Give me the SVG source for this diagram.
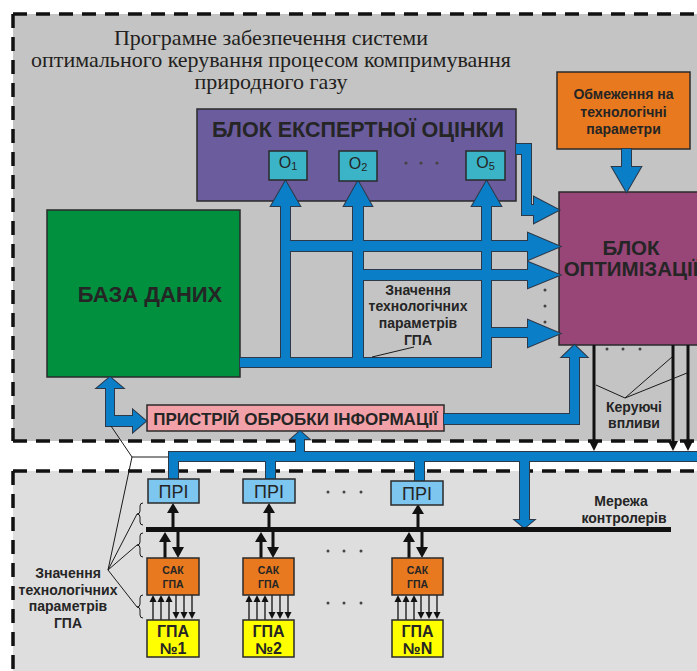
<svg xmlns="http://www.w3.org/2000/svg" xmlns:xlink="http://www.w3.org/1999/xlink" width="697" height="671" viewBox="0 0 697 671">
<style>
.t{font-family:"Liberation Sans",Arial,sans-serif;fill:#252525}
.b{font-weight:bold}
.ser{font-family:"Liberation Serif","Times New Roman",serif;fill:#231f20;font-size:22px}
.box{stroke:#2a2a2a;stroke-width:1.5}
.dash{fill:none;stroke:#111;stroke-width:3.5;stroke-dasharray:14 9}
.ld{fill:none;stroke:#1a1a1a;stroke-width:1}
.ar{stroke:#111;stroke-width:3;fill:none}
.ah{fill:#111}
.th{stroke:#111;stroke-width:1.3;fill:none}
.dot{fill:#444}
</style>
<defs>
<g id="pipeshapes" fill="#0a7ec6">
<rect x="281" y="205" width="9" height="162"/>
<polygon points="271,206 285.5,181 300,206"/>
<rect x="353" y="205" width="10" height="162"/>
<polygon points="344,206 358,181 372,206"/>
<rect x="482" y="205" width="9" height="162"/>
<polygon points="472,206 486.5,181 501,206"/>
<rect x="240" y="358" width="251" height="9"/>
<rect x="281" y="241" width="248" height="10"/>
<polygon points="528,233 560,246.5 528,260"/>
<rect x="353" y="270" width="176" height="10"/>
<polygon points="528,262 560,275 528,288"/>
<rect x="482" y="328" width="47" height="9"/>
<polygon points="528,320 560,333.5 528,347"/>
<polygon points="516,144 531,144 531,205 534,205 534,197 559,210 534,223 534,215 522,215 522,154 516,154"/>
<rect x="622" y="149" width="9" height="19"/>
<polygon points="612,167 626.5,192 641,167"/>
<rect x="106" y="387" width="8" height="39"/>
<rect x="106" y="416" width="28" height="10"/>
<polygon points="97,388 110,377 123,388"/>
<polygon points="133,410 146,421 133,432"/>
<rect x="444" y="414" width="135" height="10"/>
<rect x="570" y="356" width="9" height="68"/>
<polygon points="562,357 574.5,345 587,357"/>
<rect x="169" y="452" width="530" height="9"/>
<rect x="296" y="438" width="8" height="15"/>
<polygon points="291,439 300,431 309,439"/>
<rect x="169" y="452" width="9" height="27"/>
<rect x="266" y="452" width="9" height="27"/>
<rect x="415" y="452" width="9" height="29"/>
<rect x="520" y="460" width="9" height="61"/>
<polygon points="515,520 524.5,528 534,520"/>
</g>
</defs>

<!-- backgrounds -->
<rect x="0" y="0" width="697" height="671" fill="#ffffff"/>
<rect x="13" y="14" width="690" height="427" fill="#c4c4c4"/>
<rect x="13" y="471" width="690" height="210" fill="#dedede"/>
<path class="dash" d="M13,14 H697 M13,14 V441 M13,441 H697"/>
<path class="dash" d="M13,471 H697 M13,471 V671"/>

<text class="ser" x="271" y="45" text-anchor="middle">Програмне забезпечення системи</text>
<text class="ser" x="271" y="67" text-anchor="middle">оптимального керування процесом компримування</text>
<text class="ser" x="271" y="89" text-anchor="middle">природного газу</text>

<g id="expert">
<rect class="box" x="197" y="109" width="319" height="92" fill="#6b5c9e"/>
<text class="t b" x="358" y="137" text-anchor="middle" font-size="21.5">БЛОК ЕКСПЕРТНОЇ ОЦІНКИ</text>
<circle class="dot" cx="406" cy="163" r="1.6"/><circle class="dot" cx="421" cy="163" r="1.6"/><circle class="dot" cx="437" cy="163" r="1.6"/>
</g>
<g id="database">
<rect class="box" x="47" y="210" width="193" height="167" fill="#00903e"/>
<text class="t b" x="150" y="302" text-anchor="middle" font-size="22">БАЗА ДАНИХ</text>
</g>
<g id="optimization">
<rect class="box" x="559" y="192" width="145" height="153" fill="#974677"/>
<text class="t b" x="631" y="255" text-anchor="middle" font-size="20.5">БЛОК</text>
<text class="t b" x="631" y="276" text-anchor="middle" font-size="20.5">ОПТИМІЗАЦІЇ</text>
</g>
<g id="constraints">
<rect class="box" x="557" y="72" width="133" height="77" fill="#e8791e"/>
<text class="t b" x="623.5" y="99" text-anchor="middle" font-size="14">Обмеження на</text>
<text class="t b" x="623.5" y="117" text-anchor="middle" font-size="14">технологічні</text>
<text class="t b" x="623.5" y="134" text-anchor="middle" font-size="14">параметри</text>
</g>
<g id="processor">
<rect class="box" x="147" y="405" width="297" height="26" fill="#f2a1a8"/>
<text class="t b" x="295.5" y="425" text-anchor="middle" font-size="17">ПРИСТРІЙ ОБРОБКИ ІНФОРМАЦІЇ</text>
</g>

<g id="connectors">
<use xlink:href="#pipeshapes" stroke="#2d3848" stroke-width="2"/>
<use xlink:href="#pipeshapes" stroke="none"/>
<!-- control actions -->
<path class="ar" d="M594,345 V443 M673,345 V443 M688,345 V443"/>
<polygon class="ah" points="589,441 594,451 599,441"/>
<polygon class="ah" points="668,441 673,451 678,441"/>
<polygon class="ah" points="683,441 688,451 693,441"/>
<!-- network line -->
<rect x="146" y="527" width="525" height="5" fill="#111"/>
<!-- PRI <- net -->
<path class="ar" d="M173,527 V511 M269,527 V511 M418,527 V512"/>
<polygon class="ah" points="167,513 173,503 179,513"/>
<polygon class="ah" points="263,513 269,503 275,513"/>
<polygon class="ah" points="412,514 418,504 424,514"/>
<!-- net <-> SAK -->
<path class="ar" d="M165,558 V540 M178,532 V549 M261,558 V540 M273,532 V549 M409,558 V540 M422,532 V549"/>
<polygon class="ah" points="159,542 165,532 171,542"/>
<polygon class="ah" points="172,547 178,558 184,547"/>
<polygon class="ah" points="255,542 261,532 267,542"/>
<polygon class="ah" points="267,547 273,558 279,547"/>
<polygon class="ah" points="403,542 409,532 415,542"/>
<polygon class="ah" points="416,547 422,558 428,547"/>
<!-- SAK <-> GPA -->
<g id="sg1">
<path class="th" d="M153,620 V600 M161,620 V600 M169,620 V600 M176,595 V614 M184,595 V614 M192,595 V614"/>
<polygon class="ah" points="149.5,602 153,595 156.5,602"/>
<polygon class="ah" points="157.5,602 161,595 164.5,602"/>
<polygon class="ah" points="165.5,602 169,595 172.5,602"/>
<polygon class="ah" points="172.5,612 176,619 179.5,612"/>
<polygon class="ah" points="180.5,612 184,619 187.5,612"/>
<polygon class="ah" points="188.5,612 192,619 195.5,612"/>
</g>
<use xlink:href="#sg1" transform="translate(96,0)"/>
<use xlink:href="#sg1" transform="translate(245,0)"/>
</g>

<g id="pri1"><rect class="box" x="148" y="479" width="51" height="24" fill="#7cc6f0"/><text class="t" x="173.5" y="498" text-anchor="middle" font-size="18">ПРІ</text></g>
<g id="pri2"><rect class="box" x="243" y="479" width="52" height="24" fill="#7cc6f0"/><text class="t" x="269" y="498" text-anchor="middle" font-size="18">ПРІ</text></g>
<g id="pri3"><rect class="box" x="391" y="481" width="52" height="24" fill="#7cc6f0"/><text class="t" x="417" y="500" text-anchor="middle" font-size="18">ПРІ</text></g>

<g id="sak1"><rect class="box" x="147" y="558" width="52" height="37" fill="#e8791e"/><text class="t b" x="173" y="574" text-anchor="middle" font-size="10.5">САК</text><text class="t b" x="173" y="588" text-anchor="middle" font-size="10.5">ГПА</text></g>
<g id="sak2"><rect class="box" x="243" y="558" width="51" height="37" fill="#e8791e"/><text class="t b" x="268.5" y="574" text-anchor="middle" font-size="10.5">САК</text><text class="t b" x="268.5" y="588" text-anchor="middle" font-size="10.5">ГПА</text></g>
<g id="sak3"><rect class="box" x="392" y="558" width="51" height="37" fill="#e8791e"/><text class="t b" x="417.5" y="574" text-anchor="middle" font-size="10.5">САК</text><text class="t b" x="417.5" y="588" text-anchor="middle" font-size="10.5">ГПА</text></g>

<g id="gpa1"><rect class="box" x="147" y="620" width="52" height="37" fill="#ffff00"/><text class="t b" x="173" y="637" text-anchor="middle" font-size="16">ГПА</text><text class="t b" x="173" y="654" text-anchor="middle" font-size="16">№1</text></g>
<g id="gpa2"><rect class="box" x="243" y="620" width="51" height="37" fill="#ffff00"/><text class="t b" x="268.5" y="637" text-anchor="middle" font-size="16">ГПА</text><text class="t b" x="268.5" y="654" text-anchor="middle" font-size="16">№2</text></g>
<g id="gpa3"><rect class="box" x="392" y="620" width="51" height="37" fill="#ffff00"/><text class="t b" x="417.5" y="637" text-anchor="middle" font-size="16">ГПА</text><text class="t b" x="417.5" y="654" text-anchor="middle" font-size="16">№N</text></g>

<g id="o1"><rect class="box" x="269" y="151" width="38" height="29" fill="#3ab4c6"/><text class="t" x="288" y="168" text-anchor="middle" font-size="16">O<tspan font-size="11" dy="2">1</tspan></text></g>
<g id="o2"><rect class="box" x="339" y="151" width="38" height="30" fill="#3ab4c6"/><text class="t" x="358" y="169" text-anchor="middle" font-size="16">O<tspan font-size="11" dy="2">2</tspan></text></g>
<g id="o5"><rect class="box" x="466" y="151" width="39" height="29" fill="#3ab4c6"/><text class="t" x="485.5" y="168" text-anchor="middle" font-size="16">O<tspan font-size="11" dy="2">5</tspan></text></g>

<!-- labels -->
<g id="label-mid">
<text class="t b" x="418" y="295" text-anchor="middle" font-size="14">Значення</text>
<text class="t b" x="418" y="311" text-anchor="middle" font-size="14">технологічних</text>
<text class="t b" x="418" y="328" text-anchor="middle" font-size="14">параметрів</text>
<text class="t b" x="418" y="345" text-anchor="middle" font-size="14">ГПА</text>
<path class="ld" d="M414,347 L372,357"/>
</g>
<g id="label-control">
<text class="t b" x="634" y="412" text-anchor="middle" font-size="14">Керуючі</text>
<text class="t b" x="634" y="428" text-anchor="middle" font-size="14">впливи</text>
<path class="ld" d="M625,398 L596,385 M625,398 L672,357 M625,398 L687,373"/>
</g>
<g id="label-net">
<text class="t b" x="621" y="506" text-anchor="middle" font-size="14">Мережа</text>
<text class="t b" x="624" y="523" text-anchor="middle" font-size="14">контролерів</text>
</g>
<g id="label-left">
<text class="t b" x="68" y="578" text-anchor="middle" font-size="14">Значення</text>
<text class="t b" x="68" y="595" text-anchor="middle" font-size="14">технологічних</text>
<text class="t b" x="68" y="611" text-anchor="middle" font-size="14">параметрів</text>
<text class="t b" x="68" y="628" text-anchor="middle" font-size="14">ГПА</text>
<path class="ld" d="M108,570 L132,457 L111,426 M132,457 L168,457 M108,570 L137,514 M108,570 L137,545 M108,570 L137,607"/>
<path class="ld" d="M143,503 q-3,0 -3,3 v5 q0,3 -3,3 q3,0 3,3 v5 q0,3 3,3"/>
<path class="ld" d="M143,533 q-3,0 -3,3 v6 q0,3 -3,3 q3,0 3,3 v6 q0,3 3,3"/>
<path class="ld" d="M143,595 q-3,0 -3,3 v6 q0,3 -3,3 q3,0 3,3 v5 q0,3 3,3"/>
</g>

<!-- ellipsis dots -->
<g id="dots">
<circle class="dot" cx="545" cy="290" r="1.5"/><circle class="dot" cx="545" cy="306" r="1.5"/><circle class="dot" cx="545" cy="322" r="1.5"/>
<circle class="dot" cx="607" cy="349" r="1.5"/><circle class="dot" cx="623" cy="349" r="1.5"/><circle class="dot" cx="640" cy="349" r="1.5"/>
<circle class="dot" cx="328" cy="492" r="1.5"/><circle class="dot" cx="344" cy="492" r="1.5"/><circle class="dot" cx="361" cy="492" r="1.5"/>
<circle class="dot" cx="328" cy="551" r="1.5"/><circle class="dot" cx="344" cy="551" r="1.5"/><circle class="dot" cx="361" cy="551" r="1.5"/>
<circle class="dot" cx="328" cy="603" r="1.5"/><circle class="dot" cx="344" cy="603" r="1.5"/><circle class="dot" cx="361" cy="603" r="1.5"/>
</g>
</svg>
